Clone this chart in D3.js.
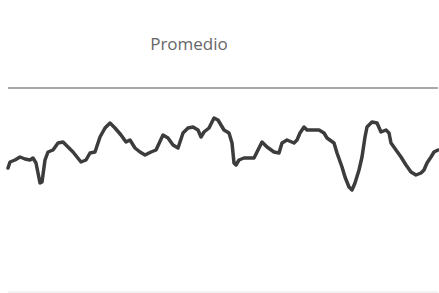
<!DOCTYPE html>
<html><head><meta charset="utf-8">
<script src="https://cdn.jsdelivr.net/npm/d3@7"></script>
<style>html,body{margin:0;padding:0;background:#fff;overflow:hidden}</style>
</head><body>
<svg id="c" width="439" height="293"></svg>
<script>
const title = "Promedio";
const t = [0,2,7,12,17,22,25,28,30,32,34,37,40,45,50,55,60,65,73,78,82,87,92,97,102,107,113,118,122,127,132,137,143,148,155,160,165,170,175,180,185,190,193,196,201,206,210,213,216,221,224,226,228,231,236,241,246,249,254,259,266,271,274,279,286,289,292,296,299,304,311,316,319,326,329,334,337,341,344,347,351,354,357,359,364,369,373,378,381,383,388,393,398,403,408,413,416,419,423,426,430];
const v = [62,65,66,67.5,66.5,66,67,64.5,59.5,54.5,55,66,70,71,74.5,75,72.5,70,65,66,69.5,70,77.5,82,84.5,82,78.5,75,76,72,70,68.5,70,71,78.5,77,73.5,72,79.5,82,82.5,81,77.5,80,82,87,86,83.5,81,79.5,74.5,64.5,63.5,66,67,67,67,70,75,72.5,70,69.5,74.5,76,74.5,76,79.5,82.5,81,81,81,79.5,77,74.5,69.5,62.5,57.5,52.5,51,54.5,61,67.5,77.5,82.5,85,84.5,80,81,79.5,74.5,71,67.5,63.5,60,58.5,59.5,61,64.5,67.5,70,71];
const gridValues = [0, 102];

const svg = d3.select("#c");
const x = d3.scaleLinear().domain([0, 430]).range([8, 438]);
const y = d3.scaleLinear().domain([0, 102]).range([292, 88]);

svg.append("text").attr("x", 189).attr("y", 50).attr("text-anchor", "middle")
  .attr("font-family", "Open Sans, sans-serif").attr("font-size", 17).attr("fill", "#666")
  .text(title);

svg.selectAll("line.g").data(gridValues).join("line").attr("class","g")
  .attr("x1", x(0)).attr("x2", 438)
  .attr("y1", d => y(d)).attr("y2", d => y(d))
  .attr("stroke", (d,i) => i === 0 ? "#eee" : "#8a8a8a")
  .attr("stroke-width", 1.5);

const data = t.map((d, i) => ({t: d, v: v[i]}));
svg.append("path").datum(data)
  .attr("fill", "none").attr("stroke", "#3c3c3c").attr("stroke-width", 3.5)
  .attr("stroke-linejoin", "round").attr("stroke-linecap", "round")
  .attr("d", d3.line().x(d => x(d.t)).y(d => y(d.v)));
</script>
</body></html>
